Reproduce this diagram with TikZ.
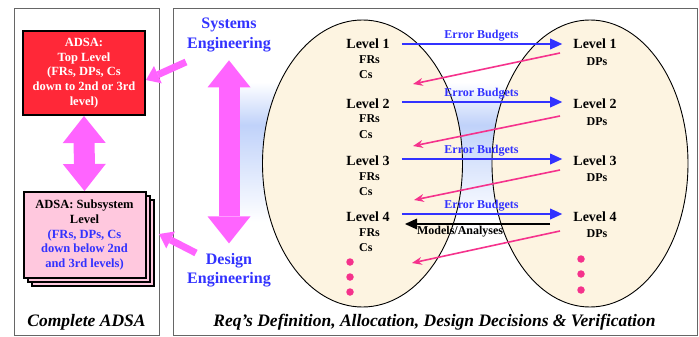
\documentclass[tikz,border=0pt]{standalone}
\usepackage{fontspec}
\setmainfont{Liberation Serif}
\usetikzlibrary{arrows.meta,shadows}
\definecolor{adsared}{RGB}{255,40,56}
\definecolor{subpink}{RGB}{255,200,222}
\definecolor{sysblue}{RGB}{50,50,255}
\definecolor{ovalfill}{RGB}{253,244,225}
\definecolor{glowblue}{RGB}{192,210,250}
\definecolor{hotpink}{RGB}{245,50,140}
\definecolor{magarrow}{RGB}{255,100,255}
\tikzset{
  panel/.style   = {draw=black!60, line width=0.9pt},
  oval/.style    = {draw=black, fill=ovalfill, line width=0.9pt},
  adsabox/.style = {draw=black, line width=2pt, fill=adsared, text=white, align=center,
                    font=\fontsize{12.5}{14.7}\selectfont\bfseries,
                    minimum width=122pt, minimum height=84pt, inner sep=2pt},
  subbox/.style  = {adsabox, fill=subpink, text=black, minimum height=86pt,
                    double copy shadow={shadow xshift=4pt, shadow yshift=-4pt}},
  engtext/.style = {text=sysblue, align=center, font=\fontsize{16}{19.5}\selectfont\bfseries},
  lvl/.style     = {font=\fontsize{14}{16}\selectfont\bfseries, inner sep=2pt},
  req/.style     = {font=\fontsize{12}{14}\selectfont\bfseries, inner sep=1pt},
  dot/.style     = {circle, fill=hotpink, inner sep=0pt, minimum size=7.5pt},
  caption/.style = {font=\fontsize{17.5}{20}\selectfont\bfseries\itshape},
  % arrows between the two ovals
  budget/.style  = {draw=sysblue, line width=2.4pt, shorten <=10pt, shorten >=9pt,
                    -{Triangle[length=12pt, width=11pt, line width=0pt]}},
  budgetlbl/.style = {above=2pt, inner sep=0pt, text=sysblue,
                    font=\fontsize{12}{14}\selectfont\bfseries},
  model/.style   = {draw=black, line width=2.4pt,
                    -{Triangle[length=12pt, width=11pt, line width=0pt]}},
  feedback/.style = {draw=hotpink, line width=1.6pt,
                    -{Stealth[length=10pt, width=8pt, line width=0pt]}},
  % big magenta arrows
  bigarrow/.style = {draw=magarrow, line width=21pt,
                    {Triangle[length=27pt, width=43pt, line width=0pt]}-{Triangle[length=27pt, width=43pt, line width=0pt]}},
  pointer/.style = {draw=magarrow, line width=7pt,
                    -{Triangle[length=13pt, width=19pt, line width=0pt]}},
}

\begin{document}
\begin{tikzpicture}[x=1pt, y=-1pt]
  \useasboundingbox (0,0) rectangle (699,337);

  \draw[panel] (14,8) rectangle (159,335);
  \draw[panel] (173,8) rectangle (697,335);

  % light blue glow behind the ovals
  \shade[top color=white, bottom color=glowblue] (240,82) rectangle (505,125);
  \shade[top color=glowblue, bottom color=white] (240,125) rectangle (505,222);

  \draw[oval] (362.5,163.5) ellipse [x radius=100pt, y radius=143.5pt];
  \draw[oval] (590,163.5) ellipse [x radius=98pt, y radius=143.5pt];

  % left panel
  \node[adsabox] (top) at (84,73)
    {ADSA:\\Top Level\\(FRs, DPs, Cs\\down to 2nd or 3rd\\level)};
  \node[subbox] (sub) at (84.5,235)
    {ADSA: Subsystem\\Level\\\textcolor{sysblue}{(FRs, DPs, Cs}\\
     \textcolor{sysblue}{down below 2nd}\\\textcolor{sysblue}{and 3rd levels)}};
  \draw[bigarrow] (top.south) -- (sub.north);
  \node[caption] (cadsa) at (86.5,322) {Complete ADSA};

  % engineering axis
  \node[engtext] (se) at (229,35) {Systems\\Engineering};
  \node[engtext] (de) at (229,270) {Design\\Engineering};
  \draw[bigarrow, shorten <=5pt, shorten >=6pt] (se.south) -- (de.north);

  \coordinate (sefrom) at (186,62);
  \coordinate (defrom) at (196,253);
  \draw[pointer] (sefrom) -- (top.east |- 0,80);
  \draw[pointer] (defrom) -- (159,234);

  % left oval: FRs and Cs
  \node[lvl] (l1) at (368,44) {Level 1};
  \node[req, anchor=west] (f1) at (358,60) {FRs};
  \node[req, anchor=west] (c1) at (358,75) {Cs};
  \node[lvl] (l2) at (368,104) {Level 2};
  \node[req, anchor=west] (f2) at (358,119) {FRs};
  \node[req, anchor=west] (c2) at (358,135) {Cs};
  \node[lvl] (l3) at (368,161) {Level 3};
  \node[req, anchor=west] (f3) at (358,177) {FRs};
  \node[req, anchor=west] (c3) at (358,192) {Cs};
  \node[lvl] (l4) at (368,217) {Level 4};
  \node[req, anchor=west] (f4) at (358,233) {FRs};
  \node[req, anchor=west] (c4) at (358,248) {Cs};
  \node[dot] (ld1) at (350,262) {};
  \node[dot] (ld2) at (350,277) {};
  \node[dot] (ld3) at (350,292) {};

  % right oval: DPs
  \node[lvl] (r1) at (595,44) {Level 1};
  \node[req] (d1) at (597,62) {DPs};
  \node[lvl] (r2) at (595,104) {Level 2};
  \node[req] (d2) at (597,122) {DPs};
  \node[lvl] (r3) at (595,161) {Level 3};
  \node[req] (d3) at (597,178) {DPs};
  \node[lvl] (r4) at (595,217) {Level 4};
  \node[req] (d4) at (597,234) {DPs};
  \node[dot] (rd1) at (581,259) {};
  \node[dot] (rd2) at (581,274) {};
  \node[dot] (rd3) at (581,290) {};

  \draw[budget] (l1.east) -- node[budgetlbl] {Error Budgets} (r1.west);
  \draw[budget] ([yshift=2pt]l2.east) -- node[budgetlbl] {Error Budgets} ([yshift=2pt]r2.west);
  \draw[budget] ([yshift=2pt]l3.east) -- node[budgetlbl] {Error Budgets} ([yshift=2pt]r3.west);
  \draw[budget] ([yshift=3pt]l4.east) -- node[budgetlbl] {Error Budgets} ([yshift=3pt]r4.west);

  \coordinate (ma1) at (550,224);
  \coordinate (ma2) at (405,224);
  \draw[model] (ma1) -- node[pos=0.62, below=1pt, inner sep=0pt,
    font=\fontsize{12}{14}\selectfont\bfseries] {Models/Analyses} (ma2);

  \coordinate (fb1s) at (560,53);  \coordinate (fb1e) at (413,84);
  \coordinate (fb2s) at (560,116); \coordinate (fb2e) at (413,146);
  \coordinate (fb3s) at (560,170); \coordinate (fb3e) at (414,200);
  \coordinate (fb4s) at (560,231); \coordinate (fb4e) at (412,263);
  \draw[feedback] (fb1s) -- (fb1e);
  \draw[feedback] (fb2s) -- (fb2e);
  \draw[feedback] (fb3s) -- (fb3e);
  \draw[feedback] (fb4s) -- (fb4e);

  \node[caption] (creq) at (434.5,322)
    {Req’s Definition, Allocation, Design Decisions \& Verification};
\end{tikzpicture}
\end{document}
